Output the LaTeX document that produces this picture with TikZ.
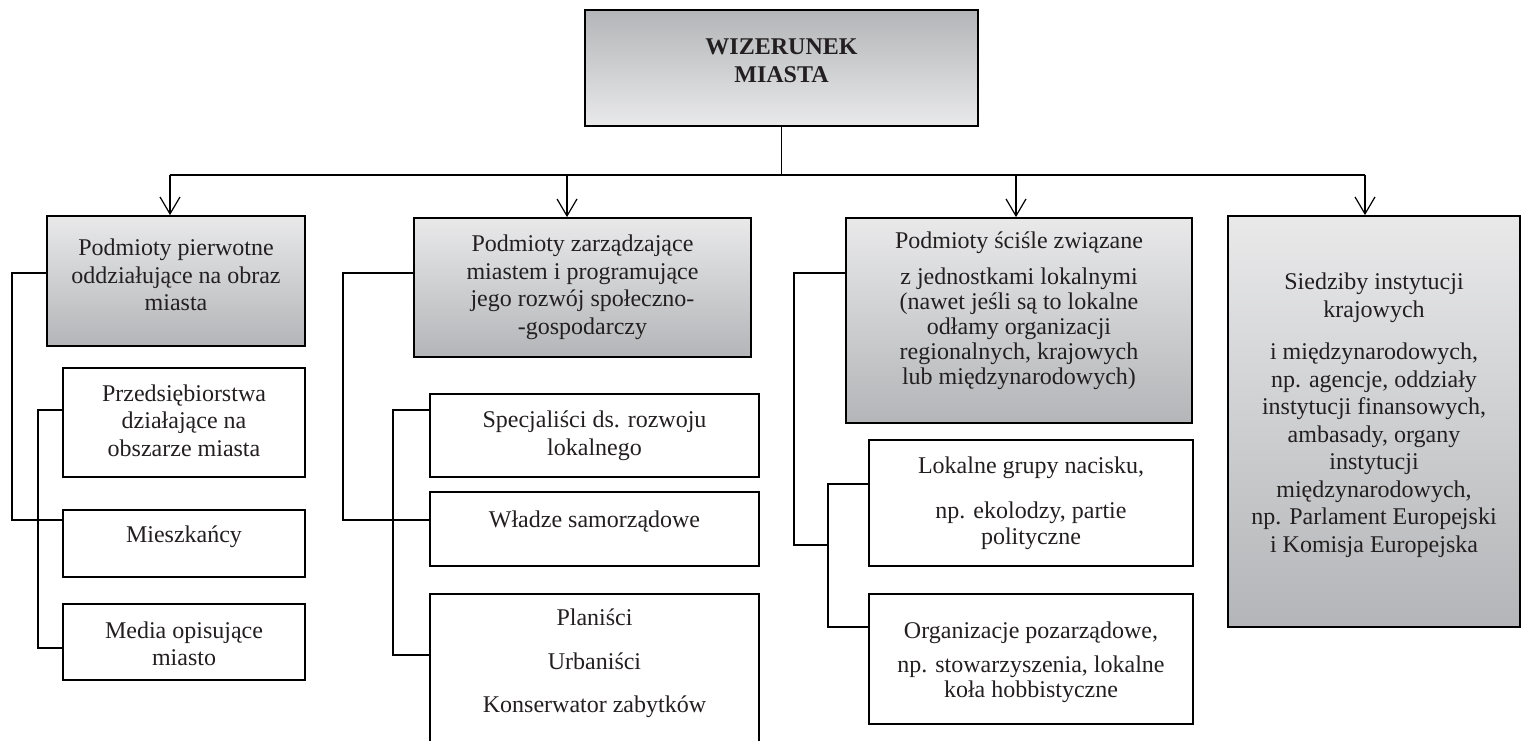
\documentclass[tikz,border=0pt]{standalone}
\usepackage{fontspec}
\setmainfont{Liberation Serif}
\usetikzlibrary{arrows.meta,shadings}
\definecolor{txt}{HTML}{231F20}
\definecolor{gdark}{HTML}{B3B5B8}
\definecolor{glight}{HTML}{E9E9EA}
\tikzset{
  box/.style={draw=black, line width=1.8pt, inner sep=0pt},
  gbox/.style={box, top color=glight, bottom color=gdark},
  tbox/.style={box, top color=gdark, bottom color=glight},
  wbox/.style={box, fill=white},
  lbl/.style={align=center, text=txt, inner sep=0pt, font=\fontsize{24}{27.5}\selectfont},
  lbln/.style={align=center, text=txt, inner sep=0pt, font=\fontsize{24}{25}\selectfont},
  con/.style={line width=1.8pt},
  bus/.style={line width=2pt},
  arr/.style={line width=1.2pt, -{Straight Barb[length=17pt,width=20pt,line width=1.2pt]}},
}
\begin{document}
\begin{tikzpicture}[x=1pt,y=-1pt]
\clip (0,0) rectangle (1521,740);
\fill[white] (0,0) rectangle (1521,740);

% top
\node[tbox, minimum width=393pt, minimum height=116pt,
  label={[lbl, font=\bfseries\fontsize{24}{28}\selectfont, yshift=7pt]center:{WIZERUNEK\\MIASTA}}] (T) at (781.5,68) {};

% level 1
\node[gbox, minimum width=258pt, minimum height=130pt,
  label={[lbl, yshift=6pt]center:{Podmioty pierwotne\\oddziałujące na obraz\\miasta}}] (b1) at (176,281) {};
\node[gbox, minimum width=337pt, minimum height=139pt,
  label={[lbl]center:{Podmioty zarządzające\\miastem i programujące\\jego rozwój społeczno-\\-gospodarczy}}] (b2) at (582.5,287.5) {};
\node[gbox, minimum width=346pt, minimum height=205pt,
  label={[lbln, yshift=10pt]center:{Podmioty ściśle związane\\[11pt]z jednostkami lokalnymi\\(nawet jeśli są to lokalne\\odłamy organizacji\\regionalnych, krajowych\\lub międzynarodowych)}}] (b3) at (1019,320.5) {};
\node[gbox, minimum width=292pt, minimum height=411pt,
  label={[lbl, yshift=6.5pt]center:{Siedziby instytucji\\krajowych\\[15pt]i międzynarodowych,\\np. agencje, oddziały\\instytucji finansowych,\\ambasady, organy\\instytucji\\międzynarodowych,\\np. Parlament Europejski\\i Komisja Europejska}}] (b4) at (1374,421.5) {};

% column 1
\node[wbox, minimum width=242pt, minimum height=109pt,
  label={[lbl, yshift=2pt]center:{Przedsiębiorstwa\\działające na\\obszarze miasta}}] (m1) at (184,422.5) {};
\node[wbox, minimum width=242pt, minimum height=67pt,
  label={[lbl, yshift=6.5pt]center:{Mieszkańcy}}] (m2) at (184,543.5) {};
\node[wbox, minimum width=242pt, minimum height=76pt,
  label={[lbl, yshift=-2pt]center:{Media opisujące\\miasto}}] (m3) at (184,642) {};

% column 2
\node[wbox, minimum width=329pt, minimum height=83pt,
  label={[lbl]center:{Specjaliści ds. rozwoju\\lokalnego}}] (n1) at (594.5,435.5) {};
\node[wbox, minimum width=329pt, minimum height=74pt,
  label={[lbl, yshift=7pt]center:{Władze samorządowe}}] (n2) at (594.5,529) {};
\node[wbox, minimum width=329pt, minimum height=186pt,
  label={[lbl, yshift=23.5pt]center:{Planiści\\[16pt]Urbaniści\\[16pt]Konserwator zabytków}}] (n3) at (594.5,687) {};

% column 3
\node[wbox, minimum width=324pt, minimum height=126pt,
  label={[lbl, font=\fontsize{24}{26}\selectfont]center:{Lokalne grupy nacisku,\\[19pt]np. ekolodzy, partie\\polityczne}}] (o1) at (1031,503) {};
\node[wbox, minimum width=324pt, minimum height=130pt,
  label={[lbln, yshift=-3.5pt]center:{Organizacje pozarządowe,\\[9pt]np. stowarzyszenia, lokalne\\koła hobbistyczne}}] (o2) at (1031,659) {};

% bus and arrows
\coordinate (jT) at (T.south |- 0,175);
\coordinate (j1) at (170,175);
\coordinate (j2) at (567,175);
\coordinate (j3) at (1016,175);
\coordinate (j4) at (1365,175);
\draw[line width=1.5pt] (T.south) -- (jT);
\draw[bus] (j1) -- (j4);
\draw[arr] (j1) -- (j1 |- b1.north);
\draw[arr] (j2) -- (j2 |- b2.north);
\draw[arr] (j3) -- (j3 |- b3.north);
\draw[arr] (j4) -- (j4 |- b4.north);

% brackets column 1
\draw[con] (b1.west |- 0,273) -- (12,273) -- (12,520) -- (m2.west |- 0,520);
\draw[con] (m1.west |- 0,410) -- (38,410) -- (38,648) -- (m3.west |- 0,648);

% brackets column 2
\draw[con] (b2.west |- 0,273) -- (343,273) -- (343,520) -- (n2.west |- 0,520);
\draw[con] (n1.west |- 0,410) -- (393,410) -- (393,655) -- (n3.west |- 0,655);

% brackets column 3
\coordinate (k3) at (828,545);
\draw[con] (b3.west |- 0,273) -- (794,273) -- (794,545) -- (k3);
\draw[con] (o1.west |- 0,484) -- (828,484) -- (828,627) -- (o2.west |- 0,627);
\end{tikzpicture}
\end{document}
